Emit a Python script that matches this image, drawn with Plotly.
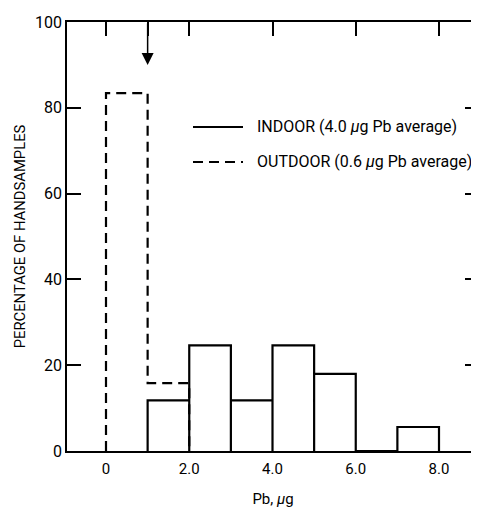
import plotly.graph_objects as go

# ---- data ----
indoor_edges = [1, 2, 3, 4, 5, 6, 7, 8]
indoor_pct = [11.8, 24.6, 11.8, 24.6, 18.0, 0.0, 5.6]
outdoor_edges = [0, 1, 2]
outdoor_pct = [83.4, 15.8]
x_tickvals = [0, 2, 4, 6, 8]
x_ticktext = ["0", "2.0", "4.0", "6.0", "8.0"]
top_tickvals = [0, 1, 2, 4, 6, 8]
y_tickvals = [0, 20, 40, 60, 80, 100]
indoor_label = "INDOOR (4.0 <i>μ</i>g Pb average)"
outdoor_label = "OUTDOOR (0.6 <i>μ</i>g Pb average)"
arrow_x = 1
arrow_tip = 90

FONT = "Roboto, sans-serif"
OFF = 8  # default page body margin

# indoor histogram: each bin drawn as a full rectangle outline
ix, iy = [], []
for i, h in enumerate(indoor_pct):
    l, r = indoor_edges[i], indoor_edges[i + 1]
    ix += [l, l, r, r]
    iy += [0, h, h, 0]

# outdoor histogram: step outline
ox = [outdoor_edges[0]] + outdoor_edges[:-1] + [outdoor_edges[-1]]
oy = [0] + outdoor_pct + [0]

fig = go.Figure()
fig.add_trace(go.Scatter(x=ix, y=iy, mode="lines",
                         line=dict(color="black", width=2.2),
                         showlegend=False, hoverinfo="skip"))
fig.add_trace(go.Scatter(x=ox, y=oy, mode="lines", line_shape="hv",
                         line=dict(color="black", width=2.2, dash="10px,6px"),
                         showlegend=False, hoverinfo="skip"))
# dummy traces for top / right axes
fig.add_trace(go.Scatter(x=[None], y=[None], xaxis="x2", yaxis="y2",
                         showlegend=False, hoverinfo="skip"))

W, H = 479 - OFF, 509 - OFF
L, R, T = 67 - OFF, 0, 22 - OFF
B = H - (451 - OFF)
pw, ph = W - L - R, H - T - B


def px(xp):
    return (xp - OFF - L) / pw


def py(yp):
    return (H - B - (yp - OFF)) / ph


# legend drawn manually
fig.add_shape(type="line", xref="paper", yref="paper",
              x0=px(193), x1=px(243), y0=py(127), y1=py(127),
              line=dict(color="black", width=2.2))
fig.add_shape(type="line", xref="paper", yref="paper",
              x0=px(193), x1=px(243), y0=py(162), y1=py(162),
              line=dict(color="black", width=2.2, dash="10px,6px"))
fig.add_annotation(xref="paper", yref="paper", x=px(255), y=py(126),
                   xanchor="left", yanchor="middle", showarrow=False,
                   text=indoor_label, font=dict(family=FONT, size=16, color="black"))
fig.add_annotation(xref="paper", yref="paper", x=px(255), y=py(161),
                   xanchor="left", yanchor="middle", showarrow=False,
                   text=outdoor_label, font=dict(family=FONT, size=16, color="black"))

# arrow
fig.add_annotation(x=arrow_x, y=arrow_tip, ax=arrow_x, ay=100,
                   xref="x", yref="y", axref="x", ayref="y",
                   showarrow=True, arrowhead=2, arrowsize=1.6, arrowwidth=1.5,
                   arrowcolor="black", text="")

x0 = -(106 - 67) / 41.625
x1 = x0 + pw / 41.625

fig.update_layout(
    width=W, height=H,
    margin=dict(l=L, r=R, t=T, b=B),
    paper_bgcolor="white", plot_bgcolor="white",
    font=dict(family=FONT, color="black", size=15),
    xaxis=dict(range=[x0, x1], tickvals=x_tickvals, ticktext=x_ticktext,
               ticks="", showline=True, linecolor="black", linewidth=1.8,
               showgrid=False, zeroline=False, ticklabelstandoff=3,
               tickfont=dict(size=15),
               title=dict(text="Pb, <i>μ</i>g", font=dict(size=15), standoff=17)),
    xaxis2=dict(range=[x0, x1], overlaying="x", side="top", anchor="y",
                tickvals=top_tickvals, showticklabels=False,
                ticks="inside", ticklen=14, tickwidth=1.5, tickcolor="black",
                showline=True, linecolor="black", linewidth=1.8,
                showgrid=False, zeroline=False),
    yaxis=dict(range=[0, 100], tickvals=y_tickvals,
               ticks="inside", ticklen=14, tickwidth=1.5, tickcolor="black",
               showline=True, linecolor="black", linewidth=1.8,
               showgrid=False, zeroline=False,
               tickfont=dict(size=16),
               title=dict(text="PERCENTAGE OF HANDSAMPLES", font=dict(size=14.8), standoff=6)),
    yaxis2=dict(range=[0, 100], overlaying="y", side="right", anchor="x",
                tickvals=y_tickvals, showticklabels=False,
                ticks="inside", ticklen=14, tickwidth=1.5, tickcolor="black",
                showline=False, showgrid=False, zeroline=False),
)

fig.write_html("out.html")
